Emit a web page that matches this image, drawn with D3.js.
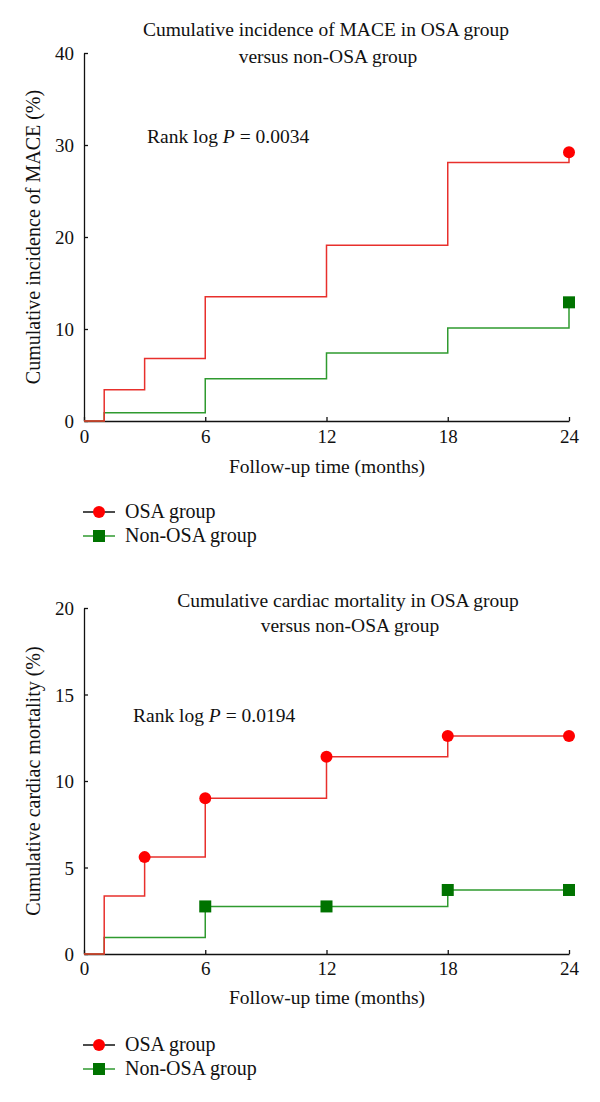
<!DOCTYPE html>
<html>
<head>
<meta charset="utf-8">
<script src="https://cdn.jsdelivr.net/npm/d3@7"></script>
<style>
  body { margin: 0; background: #fff; }
  svg text { font-family: "Liberation Serif", "Times New Roman", serif; fill: #111; }
</style>
</head>
<body>
<div id="chart"></div>
<script>
// follow-up times (months)
const xTicks = [0, 6, 12, 18, 24];

// chart 1: cumulative incidence of MACE (%)
const maceTime = [0, 1, 3, 6, 12, 18, 24];
const maceOsa = [0, 3.4, 6.8, 13.5, 19.1, 28.1, 29.2];
const maceNonTime = [0, 1, 6, 12, 18, 24];
const maceNon = [0, 0.9, 4.6, 7.4, 10.1, 12.9];
const maceOsaMarks = [24];
const maceNonMarks = [24];
const maceTicks = [0, 10, 20, 30, 40];

// chart 2: cumulative cardiac mortality (%)
const mortTime = [0, 1, 3, 6, 12, 18, 24];
const mortOsa = [0, 3.35, 5.6, 9.0, 11.4, 12.6, 12.6];
const mortNonTime = [0, 1, 6, 12, 18, 24];
const mortNon = [0, 0.95, 2.75, 2.75, 3.7, 3.7];
const mortOsaMarks = [3, 6, 12, 18, 24];
const mortNonMarks = [6, 12, 18, 24];
const mortTicks = [0, 5, 10, 15, 20];

const redLine = '#e8302c', redDot = '#ff0000';
const greenLine = '#2f9a2f', greenDot = '#007300';
const fs = '19.5px';

const svg = d3.select('#chart').append('svg')
    .attr('width', 600)
    .attr('height', 1102);

const drawPanel = cfg => {
    const g = svg.append('g');
    const x = d3.scaleLinear().domain([0, 24]).range([84, 569]);
    const y = d3.scaleLinear().domain([0, cfg.yMax]).range([cfg.y0, cfg.y1]);

    // title
    const title = g.append('text')
        .attr('text-anchor', 'middle')
        .style('font-size', fs);
    title.append('tspan').attr('x', cfg.titleX).attr('y', cfg.titleY).text(cfg.title[0]);
    title.append('tspan').attr('x', cfg.titleX + 2).attr('y', cfg.titleY + cfg.titleGap).text(cfg.title[1]);

    // axes, ticks pointing inward
    const xAxis = d3.axisBottom(x).tickValues(xTicks).tickSize(-4).tickSizeOuter(0).tickPadding(8);
    const yAxis = d3.axisLeft(y).tickValues(cfg.yTicks).tickSize(-4).tickSizeOuter(0).tickPadding(10);
    const gx = g.append('g').attr('transform', `translate(0,${cfg.y0})`).call(xAxis);
    const gy = g.append('g').attr('transform', 'translate(84,0)').call(yAxis);
    [gx, gy].forEach(a => {
        a.selectAll('path, line').attr('stroke', '#111').attr('stroke-width', 1.3);
        a.selectAll('text').style('font-size', '19px').attr('fill', '#111');
    });
    gx.selectAll('text').attr('dy', null).attr('y', cfg.xTickY - cfg.y0);
    gy.selectAll('text').attr('dy', '0.35em');

    g.append('text')
        .attr('x', 327).attr('y', cfg.xLabelY)
        .attr('text-anchor', 'middle')
        .style('font-size', fs)
        .text('Follow-up time (months)');

    g.append('text')
        .attr('transform', `translate(40,${(cfg.y0 + cfg.y1) / 2}) rotate(-90)`)
        .attr('text-anchor', 'middle')
        .style('font-size', '20px')
        .text(cfg.yLabel);

    // rank log annotation
    const rl = g.append('text')
        .attr('x', cfg.rankX).attr('y', cfg.rankY)
        .style('font-size', fs);
    rl.append('tspan').text('Rank log ');
    rl.append('tspan').style('font-style', 'italic').text('P');
    rl.append('tspan').text(' = ' + cfg.pValue);

    const line = d3.line()
        .x(d => x(d[0]))
        .y(d => y(d[1]))
        .curve(d3.curveStepAfter);

    const series = [
        {t: cfg.nonTime, v: cfg.non, marks: cfg.nonMarks, line: greenLine, dot: greenDot, shape: 'square'},
        {t: cfg.osaTime, v: cfg.osa, marks: cfg.osaMarks, line: redLine, dot: redDot, shape: 'circle'}
    ];
    series.forEach(s => {
        const pts = s.t.map((t, i) => [t, s.v[i]]);
        g.append('path')
            .datum(pts)
            .attr('fill', 'none')
            .attr('stroke', s.line)
            .attr('stroke-width', 1.5)
            .attr('d', line);
        const mk = pts.filter(p => s.marks.includes(p[0]));
        if (s.shape === 'circle') {
            g.selectAll(null).data(mk).enter().append('circle')
                .attr('cx', d => x(d[0])).attr('cy', d => y(d[1]))
                .attr('r', 6).attr('fill', s.dot);
        } else {
            g.selectAll(null).data(mk).enter().append('rect')
                .attr('x', d => x(d[0]) - 6).attr('y', d => y(d[1]) - 6)
                .attr('width', 12).attr('height', 12).attr('fill', s.dot);
        }
    });

    // legend
    const lg = g.append('g');
    const items = [
        {label: 'OSA group', line: '#111', dot: redDot, shape: 'circle'},
        {label: 'Non-OSA group', line: greenLine, dot: greenDot, shape: 'square'}
    ];
    items.forEach((it, i) => {
        const cy = cfg.legendY + i * 24;
        lg.append('line').attr('x1', 83).attr('x2', 115).attr('y1', cy).attr('y2', cy)
            .attr('stroke', it.line).attr('stroke-width', 1.5);
        if (it.shape === 'circle') {
            lg.append('circle').attr('cx', 99).attr('cy', cy).attr('r', 6).attr('fill', it.dot);
        } else {
            lg.append('rect').attr('x', 93).attr('y', cy - 6).attr('width', 12).attr('height', 12).attr('fill', it.dot);
        }
        lg.append('text').attr('x', 125).attr('y', cy + 6)
            .style('font-size', '20px').text(it.label);
    });
};

drawPanel({
    title: ['Cumulative incidence of MACE in OSA group', 'versus non-OSA group'],
    titleX: 326, titleY: 36, titleGap: 27,
    yMax: 40, yTicks: maceTicks, y0: 421, y1: 53,
    xTickY: 443, xLabelY: 473,
    yLabel: 'Cumulative incidence of MACE (%)',
    rankX: 147, rankY: 143, pValue: '0.0034',
    osaTime: maceTime, osa: maceOsa, osaMarks: maceOsaMarks,
    nonTime: maceNonTime, non: maceNon, nonMarks: maceNonMarks,
    legendY: 512
});

drawPanel({
    title: ['Cumulative cardiac mortality in OSA group', 'versus non-OSA group'],
    titleX: 348, titleY: 607, titleGap: 25,
    yMax: 20, yTicks: mortTicks, y0: 954, y1: 608,
    xTickY: 975, xLabelY: 1004,
    yLabel: 'Cumulative cardiac mortality (%)',
    rankX: 133, rankY: 722, pValue: '0.0194',
    osaTime: mortTime, osa: mortOsa, osaMarks: mortOsaMarks,
    nonTime: mortNonTime, non: mortNon, nonMarks: mortNonMarks,
    legendY: 1045
});
</script>
</body>
</html>
